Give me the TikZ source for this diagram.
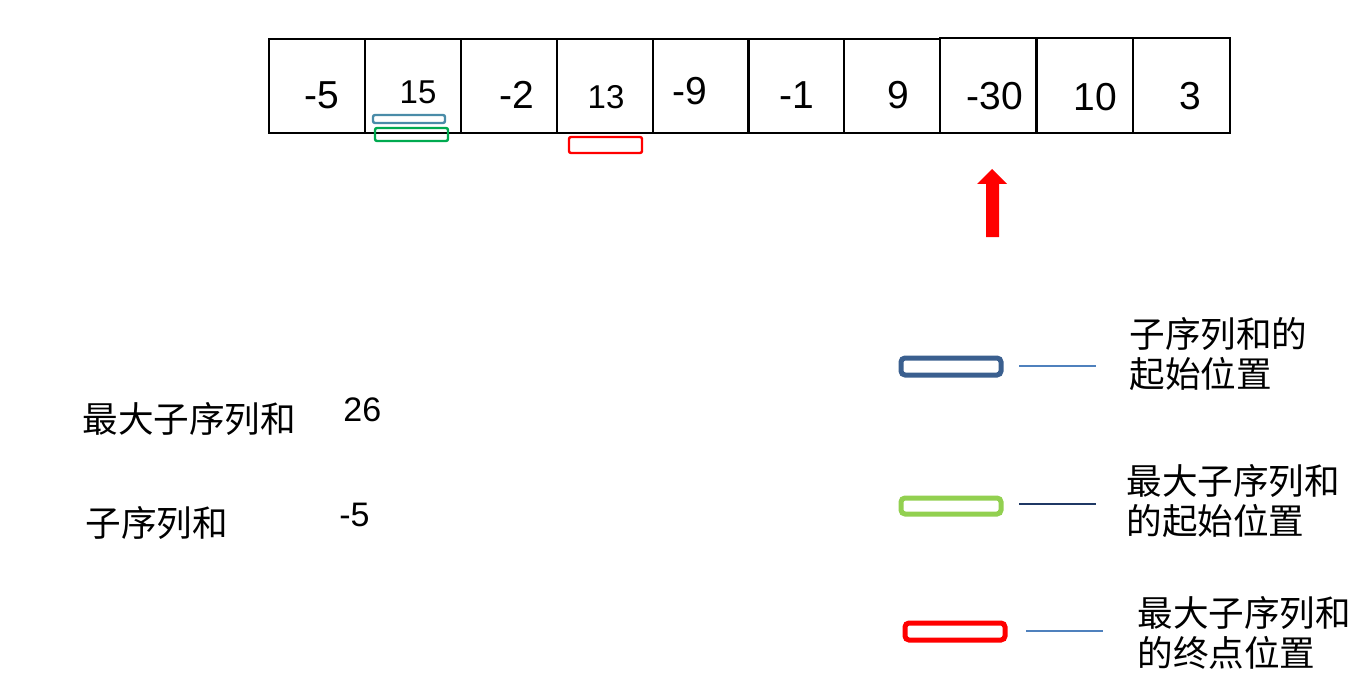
\documentclass[tikz,border=0pt]{standalone}
\usepackage{fontspec}
\setmainfont{Liberation Sans}
\newfontfamily\cjk{Noto Sans CJK SC}
\begin{document}
\begin{tikzpicture}[x=0.5pt,y=-0.5pt,
  cellbox/.style={draw=black,line width=1pt,minimum width=48pt,minimum height=47pt,inner sep=0pt,outer sep=0pt},
  num/.style={font=\fontsize{19.5}{22}\selectfont,inner sep=0pt},
  numsm/.style={font=\fontsize{16.5}{20}\selectfont,inner sep=0pt},
  cjkfont/.style={font=\cjk\fontsize{17.8}{20}\selectfont,inner sep=0pt},
  cjktext/.style={cjkfont,align=left,anchor=west},
  markbox/.style={draw,rounded corners=1pt,inner sep=0pt,outer sep=0pt},
  legline/.style={line width=0.8pt}
]
\useasboundingbox (0,0) rectangle (1368,700);
% cells
\foreach \i/\x in {1/269,2/365,3/461,4/557,5/653,6/748,7/844}{
  \node[cellbox,anchor=north west] (c\i) at (\x,39) {};
}
\node[cellbox,anchor=north west,minimum height=47.5pt] (c8) at (940,38) {};
\node[cellbox,anchor=north west,minimum height=47.5pt] (c9) at (1037,38) {};
\node[cellbox,anchor=north west,minimum height=47.5pt,minimum width=48.5pt] (c10) at (1133,38) {};
% numbers
\node[num] (n1) at (322,95) {-5};
\node[numsm] (n2) at (418,92) {15};
\node[num] (n3) at (517,95) {-2};
\node[numsm] (n4) at (606,97) {13};
\node[num] (n5) at (690,91) {-9};
\node[num] (n6) at (797,95) {-1};
\node[num] (n7) at (898,95) {9};
\node[num] (n8) at (995,96) {-30};
\node[num] (n9) at (1095,97) {10};
\node[num] (n10) at (1190,96) {3};
% markers under cells
\draw[markbox,draw={rgb,255:red,74;green,140;blue,168},line width=1.2pt] (373,115) rectangle (445,123);
\draw[markbox,draw={rgb,255:red,0;green,170;blue,80},line width=1.2pt] (375,128) rectangle (448,141);
\draw[markbox,draw=red,line width=1.2pt] (569,137) rectangle (642,153);
% red arrow
\fill[red] (986,237) -- (986,184) -- (977,184) -- (992,169) -- (1007,184) -- (999,184) -- (999,237) -- cycle;
% left texts
\node[cjkfont,anchor=west] (t1) at (82,419) {最大子序列和};
\node[font=\fontsize{17}{20}\selectfont,inner sep=0pt,anchor=west] (v1) at (343,410) {26};
\node[cjkfont,anchor=west] (t2) at (85,523) {子序列和};
\node[font=\fontsize{17}{20}\selectfont,inner sep=0pt,anchor=west] (v2) at (339,515) {-5};
% legend
\draw[markbox,rounded corners=2pt,draw={rgb,255:red,58;green,95;blue,143},line width=2.5pt] (901,358) rectangle (1001,375);
\coordinate (la1) at (1019,366); \coordinate (lb1) at (1096,366);
\draw[legline,draw={rgb,255:red,79;green,129;blue,189}] (la1) -- (lb1);
\node[cjktext] (l1) at (1129,354) {子序列和的\\起始位置};

\draw[markbox,rounded corners=2pt,draw={rgb,255:red,146;green,208;blue,80},line width=2.5pt] (901,498) rectangle (1001,514);
\coordinate (la2) at (1019,504); \coordinate (lb2) at (1096,504);
\draw[legline,draw={rgb,255:red,31;green,56;blue,100}] (la2) -- (lb2);
\node[cjktext] (l2) at (1126,501) {最大子序列和\\的起始位置};

\draw[markbox,rounded corners=2pt,draw=red,line width=2.5pt] (905,623) rectangle (1005,640);
\coordinate (la3) at (1026,631); \coordinate (lb3) at (1103,631);
\draw[legline,draw={rgb,255:red,79;green,129;blue,189}] (la3) -- (lb3);
\node[cjktext] (l3) at (1137,633) {最大子序列和\\的终点位置};
\end{tikzpicture}
\end{document}
